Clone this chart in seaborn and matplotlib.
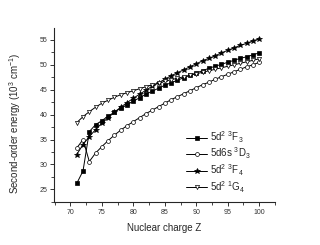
import numpy as np
import pandas as pd
import matplotlib
matplotlib.use('Agg')
import matplotlib.pyplot as plt
from matplotlib.ticker import MultipleLocator
import seaborn as sns

z = list(range(71, 101))

f3 = [26.2, 28.7, 36.6, 38.0, 38.8, 39.7, 40.5, 41.3, 42.0, 42.7,
      43.4, 44.1, 44.7, 45.3, 45.9, 46.4, 46.9, 47.4, 47.9, 48.4,
      48.8, 49.3, 49.7, 50.1, 50.5, 50.9, 51.3, 51.6, 52.0, 52.4]
d3 = [33.3, 35.0, 30.6, 32.3, 33.6, 34.8, 35.9, 36.9, 37.8, 38.6,
      39.4, 40.2, 40.9, 41.6, 42.3, 43.0, 43.6, 44.2, 44.8, 45.4,
      46.0, 46.5, 47.1, 47.6, 48.1, 48.6, 49.1, 49.6, 50.0, 50.5]
f4 = [32.0, 34.0, 35.6, 37.0, 38.3, 39.4, 40.5, 41.5, 42.4, 43.3,
      44.1, 44.9, 45.7, 46.4, 47.1, 47.8, 48.4, 49.0, 49.6, 50.2,
      50.8, 51.3, 51.8, 52.4, 52.9, 53.4, 53.9, 54.3, 54.8, 55.2]
g4 = [38.4, 39.6, 40.6, 41.5, 42.3, 42.9, 43.5, 44.0, 44.4, 44.8,
      45.2, 45.6, 46.0, 46.3, 46.7, 47.0, 47.3, 47.6, 47.9, 48.2,
      48.5, 48.8, 49.1, 49.4, 49.7, 50.0, 50.3, 50.6, 50.9, 51.2]

labels = [r'5d$^2$ $^3$F$_3$', r'5d6s $^3$D$_3$', r'5d$^2$ $^3$F$_4$', r'5d$^2$ $^1$G$_4$']

df = pd.DataFrame({'Z': z, 'f3': f3, 'd3': d3, 'f4': f4, 'g4': g4})

sns.set_style('ticks')
plt.rcParams['font.family'] = ['Liberation Sans', 'DejaVu Sans']
plt.rcParams['mathtext.fontset'] = 'custom'
plt.rcParams['mathtext.rm'] = 'Liberation Sans'
plt.rcParams['mathtext.it'] = 'Liberation Sans'

fig = plt.figure(figsize=(3.2, 2.45), dpi=100)
ax = fig.add_axes([0.169, 0.176, 0.69, 0.71])

common = dict(color='black', linewidth=0.7, markeredgewidth=0.5, markeredgecolor='black', ax=ax)
sns.lineplot(x='Z', y='f3', data=df, marker='s', markersize=2.6, label=labels[0], markerfacecolor='black', **common)
sns.lineplot(x='Z', y='d3', data=df, marker='o', markersize=2.8, label=labels[1], markerfacecolor='white', **common)
sns.lineplot(x='Z', y='f4', data=df, marker='*', markersize=4.2, label=labels[2], markerfacecolor='black', **common)
sns.lineplot(x='Z', y='g4', data=df, marker='v', markersize=3.0, label=labels[3], markerfacecolor='white', **common)

ax.set_xlim(67.4, 102.5)
ax.set_ylim(22.5, 57.4)
ax.xaxis.set_major_locator(MultipleLocator(5))
ax.xaxis.set_minor_locator(MultipleLocator(2.5))
ax.yaxis.set_major_locator(MultipleLocator(5))
ax.yaxis.set_minor_locator(MultipleLocator(2.5))
ax.tick_params(which='major', length=3, width=0.7, labelsize=5, colors='#333333', pad=2)
ax.tick_params(which='minor', length=2, width=0.6)
sns.despine(ax=ax)
for s in ['left', 'bottom']:
    ax.spines[s].set_linewidth(0.8)

ax.set_xlabel('Nuclear charge Z', fontsize=7, labelpad=5)
ax.set_ylabel(r'Second-order energy (10$^3$ cm$^{-1}$)', fontsize=7, labelpad=5)
ax.yaxis.set_label_coords(-0.14, 0.45)

ax.legend(loc='upper left', bbox_to_anchor=(0.58, 0.44), frameon=False, fontsize=7,
          handlelength=2.2, handletextpad=0.3, labelspacing=0.1, borderaxespad=0)

fig.savefig('out.png', dpi=100)
